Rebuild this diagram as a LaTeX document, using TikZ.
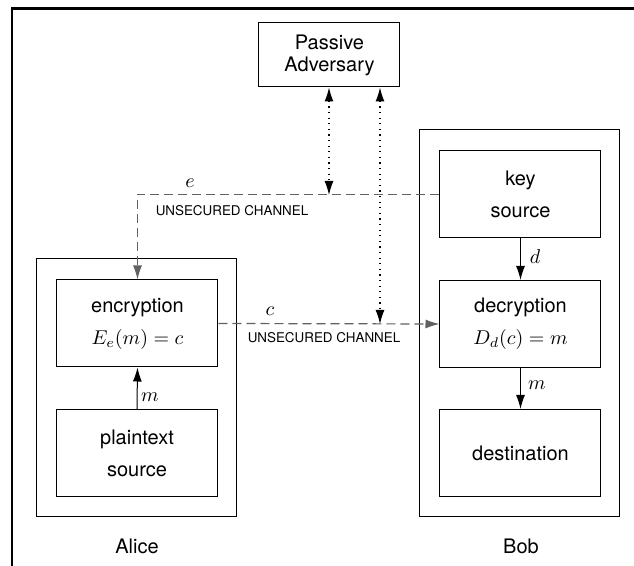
\documentclass[tikz,border=0pt]{standalone}
\usepackage{fontspec}
\setmainfont{TeX Gyre Heros}
\usetikzlibrary{arrows.meta}
\begin{document}
\begin{tikzpicture}[x=0.5pt,y=-0.5pt,
  tip/.tip={Latex[length=7pt,width=4.5pt]},
  box/.style={draw, line width=0.5pt, minimum width=80.5pt, minimum height=43.5pt, inner sep=0pt, align=center, font=\fontsize{10}{16}\selectfont},
  group/.style={draw, line width=0.5pt, inner sep=0pt},
  chan/.style={draw=black!62, line width=0.6pt, dash pattern=on 4.5pt off 2.5pt},
  spy/.style={line width=0.6pt, dash pattern=on 0.6pt off 2.2pt, tip-tip},
  flow/.style={line width=0.5pt, -tip},
  lbl/.style={inner sep=0pt, font=\fontsize{10}{12}\selectfont},
  chlbl/.style={inner sep=0pt, font=\fontsize{6.7}{8}\selectfont}]
\useasboundingbox (0,0) rectangle (634,566);
% outer frame
\draw[line width=1.1pt] (12,566) -- (12,8.5) -- (634,8.5);
% groups
\node[group, minimum width=100pt, minimum height=129pt] (alicebox) at (137,388) {};
\node[group, minimum width=100pt, minimum height=193.5pt] (bobbox) at (520,323.5) {};
% boxes
\node[box, minimum width=70.5pt, minimum height=32pt, font=\fontsize{10}{11}\selectfont] (adv) at (329.5,55) {Passive\\Adversary};
\node[box] (enc) at (137.5,323.5) {encryption\\$E_e(m)=c$};
\node[box] (plain) at (137,453) {plaintext\\source};
\node[box] (key) at (520.5,194.5) {key\\source};
\node[box] (dec) at (520.5,324) {decryption\\$D_d(c)=m$};
\node[box] (dest) at (520.5,453) {destination};
% channels
\coordinate (e1) at (329,195);
\coordinate (c1) at (380,324);
\draw[chan, -tip] (key.west) -| (enc.north);
\draw[chan, -tip] (enc.east) -- (dec.west);
\draw[spy] (adv.south -| e1) -- (e1);
\draw[spy] (adv.south -| c1) -- (c1);
\draw[flow] (key.south) -- (dec.north);
\draw[flow] (dec.south) -- (dest.north);
\draw[flow] (plain.north) -- (enc.south);
% labels
\node[lbl] (le) at (190,183) {$e$};
\node[lbl] (lc) at (270,311) {$c$};
\node[lbl] (ld) at (535,257) {$d$};
\node[lbl] (lm1) at (150,397) {$m$};
\node[lbl] (lm2) at (537,385) {$m$};
\node[chlbl] (ch1) at (232,211) {UNSECURED CHANNEL};
\node[chlbl] (ch2) at (324,338) {UNSECURED CHANNEL};
\node[lbl] (alice) at (137,546) {Alice};
\node[lbl] (bob) at (521,546) {Bob};
\end{tikzpicture}
\end{document}
